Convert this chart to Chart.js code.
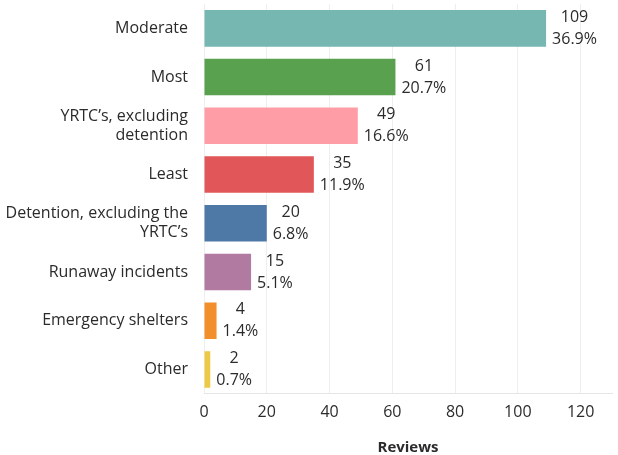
<!DOCTYPE html>
<html>
<head>
<meta charset="utf-8">
<script src="https://cdn.jsdelivr.net/npm/chart.js@4"></script>
<style>
  html, body { margin: 0; padding: 0; background: #fff; }
  #wrap { width: 618px; height: 455px; position: relative; }
</style>
</head>
<body>
<div id="wrap"><canvas id="reviewChart"></canvas></div>
<script>
// ==========================
// Data
// ==========================
const categories = [
  'Moderate',
  'Most',
  ['YRTC\u2019s, excluding', 'detention'],
  'Least',
  ['Detention, excluding the', 'YRTC\u2019s'],
  'Runaway incidents',
  'Emergency shelters',
  'Other'
];
const reviewCounts = [109, 61, 49, 35, 20, 15, 4, 2];
const reviewShares = ['36.9%', '20.7%', '16.6%', '11.9%', '6.8%', '5.1%', '1.4%', '0.7%'];
const barColors = ['#76b7b2', '#59a14f', '#ff9da7', '#e15759', '#4e79a7', '#b07aa1', '#f28e2b', '#edc948'];
const xTicks = [0, 20, 40, 60, 80, 100, 120];

const textColor = '#2b2b2b';
const fontFamily = '"Open Sans", sans-serif';

// ==========================
// Two-line value labels next to each bar
// ==========================
const valueLabels = {
  id: 'valueLabels',
  afterDatasetsDraw(chart) {
    const ctx = chart.ctx;
    const meta = chart.getDatasetMeta(0);
    ctx.save();
    ctx.font = '16px ' + fontFamily;
    ctx.fillStyle = textColor;
    ctx.textAlign = 'center';
    ctx.textBaseline = 'middle';
    meta.data.forEach((bar, i) => {
      const top = String(reviewCounts[i]);
      const bottom = reviewShares[i];
      const w = Math.max(ctx.measureText(top).width, ctx.measureText(bottom).width);
      const cx = bar.x + 6 + w / 2;
      ctx.fillText(top, cx, bar.y - 11);
      ctx.fillText(bottom, cx, bar.y + 11);
    });
    ctx.restore();
  }
};

new Chart(document.getElementById('reviewChart').getContext('2d'), {
  type: 'bar',
  data: {
    labels: categories,
    datasets: [{
      label: 'Reviews',
      data: reviewCounts,
      backgroundColor: barColors,
      categoryPercentage: 0.75,
      barPercentage: 1.0
    }]
  },
  options: {
    indexAxis: 'y',
    responsive: true,
    maintainAspectRatio: false,
    animation: false,
    layout: { padding: { top: 4, right: 6, left: 0, bottom: -6 } },
    plugins: {
      legend: { display: false },
      tooltip: { enabled: false }
    },
    scales: {
      x: {
        min: 0,
        max: 130,
        afterBuildTicks: (scale) => {
          scale.ticks = xTicks.map(v => ({ value: v }));
        },
        grid: { color: '#eeeeee', drawTicks: false },
        border: { color: '#e6e6e6' },
        ticks: {
          padding: 9,
          color: textColor,
          font: { family: fontFamily, size: 16 }
        },
        title: {
          display: true,
          text: 'Reviews',
          color: textColor,
          font: { family: fontFamily, size: 15, weight: 'bold' },
          padding: { top: 8, bottom: 4 }
        }
      },
      y: {
        afterFit: (scale) => {
          scale.width = 204;
          scale.paddingTop = 0;
          scale.paddingBottom = 0;
        },
        grid: { display: false },
        border: { display: false },
        ticks: {
          padding: 8,
          color: textColor,
          font: { family: fontFamily, size: 16 }
        }
      }
    }
  },
  plugins: [valueLabels]
});
</script>
</body>
</html>
